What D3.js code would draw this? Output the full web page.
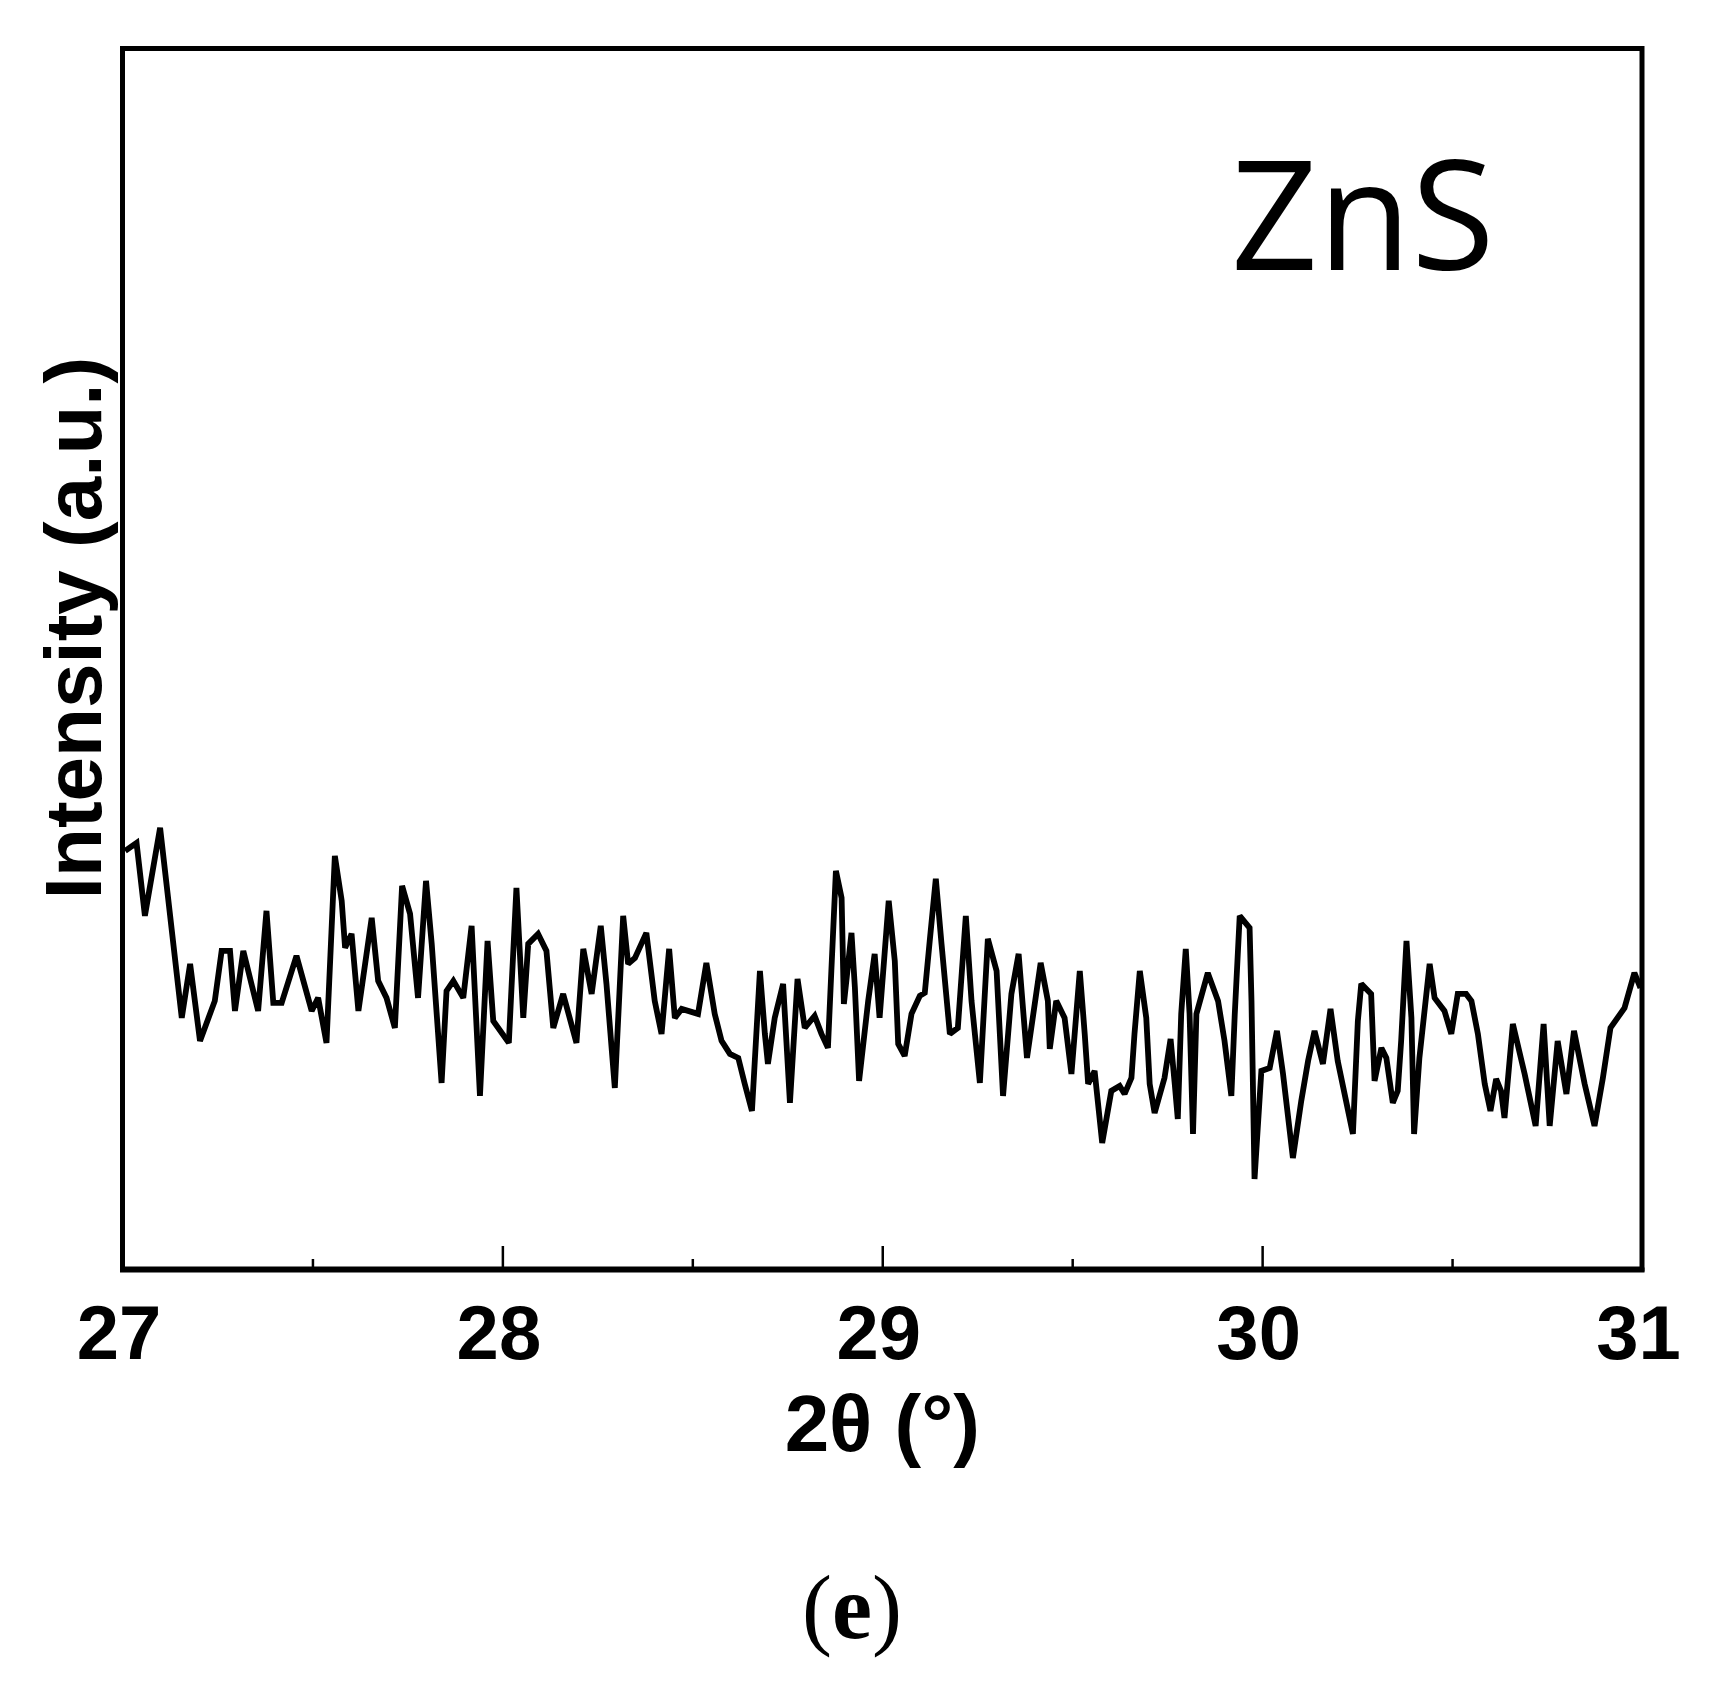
<!DOCTYPE html>
<html>
<head>
<meta charset="utf-8">
<script src="https://cdn.jsdelivr.net/npm/d3@7"></script>
<style>
  body { margin: 0; background: white; }
</style>
</head>
<body>
<div id="chart"></div>
<script>
// 2theta positions (deg) of the trace vertices
const theta = [
  27.007, 27.037, 27.059, 27.099, 27.138, 27.156, 27.178, 27.204, 27.243, 27.261,
  27.283, 27.296, 27.318, 27.357, 27.379, 27.397, 27.419, 27.458, 27.498, 27.515,
  27.537, 27.559, 27.577, 27.586, 27.603, 27.621, 27.656, 27.673, 27.695, 27.717,
  27.736, 27.757, 27.778, 27.799, 27.814, 27.840, 27.853, 27.871, 27.897, 27.919,
  27.941, 27.961, 27.976, 28.017, 28.024, 28.037, 28.055, 28.068, 28.094, 28.116,
  28.134, 28.160, 28.195, 28.213, 28.235, 28.259, 28.274, 28.296, 28.318, 28.331,
  28.349, 28.379, 28.401, 28.419, 28.439, 28.454, 28.472, 28.515, 28.537, 28.559,
  28.577, 28.599, 28.621, 28.638, 28.657, 28.678, 28.691, 28.699, 28.717, 28.739,
  28.757, 28.777, 28.796, 28.822, 28.840, 28.857, 28.866, 28.878, 28.893, 28.899,
  28.919, 28.928, 28.939, 28.963, 28.980, 28.993, 29.017, 29.033, 29.042, 29.059,
  29.077, 29.099, 29.112, 29.125, 29.141, 29.156, 29.178, 29.199, 29.220, 29.235,
  29.257, 29.278, 29.301, 29.318, 29.340, 29.359, 29.381, 29.417, 29.436, 29.441,
  29.458, 29.480, 29.498, 29.520, 29.533, 29.542, 29.559, 29.579, 29.603, 29.625,
  29.638, 29.656, 29.664, 29.678, 29.695, 29.704, 29.717, 29.743, 29.759, 29.770,
  29.778, 29.787, 29.799, 29.809, 29.818, 29.827, 29.857, 29.884, 29.901, 29.919,
  29.928, 29.941, 29.967, 29.972, 29.980, 29.998, 30.020, 30.039, 30.055, 30.081,
  30.103, 30.121, 30.138, 30.160, 30.180, 30.199, 30.239, 30.252, 30.261, 30.287,
  30.296, 30.314, 30.327, 30.344, 30.357, 30.366, 30.380, 30.393, 30.400, 30.414,
  30.441, 30.454, 30.480, 30.498, 30.515, 30.537, 30.551, 30.568, 30.586, 30.601,
  30.616, 30.629, 30.638, 30.660, 30.691, 30.720, 30.741, 30.757, 30.778, 30.801,
  30.821, 30.849, 30.875, 30.897, 30.917, 30.954, 30.980, 30.996
];

// intensity (a.u.) at each vertex
const intensity = [
  41.8, 42.6, 35.3, 44.1, 31.1, 25.1, 30.5, 22.8, 26.8, 31.8,
  31.8, 25.8, 31.8, 25.8, 35.8, 26.6, 26.6, 31.3, 25.8, 27.1,
  22.6, 41.3, 36.8, 32.1, 33.5, 25.8, 35.1, 28.8, 27.1, 24.1,
  38.3, 35.5, 27.1, 38.8, 32.5, 18.6, 27.8, 28.8, 27.1, 34.3,
  17.3, 32.8, 24.8, 22.6, 28.1, 38.1, 25.1, 32.5, 33.5, 31.8,
  24.1, 27.5, 22.6, 32.0, 27.5, 34.3, 28.5, 18.1, 35.3, 30.5,
  31.1, 33.6, 26.8, 23.5, 32.0, 25.1, 26.0, 25.5, 30.6, 25.5,
  22.8, 21.5, 21.1, 18.5, 15.8, 29.8, 23.5, 20.5, 25.1, 28.5,
  16.6, 29.0, 24.1, 25.3, 23.5, 22.1, 29.8, 39.8, 37.1, 26.5,
  33.6, 28.1, 18.8, 26.8, 31.5, 25.1, 36.8, 30.8, 22.5, 21.3,
  25.5, 27.3, 27.6, 32.8, 39.0, 32.5, 23.5, 24.1, 35.3, 26.8,
  18.6, 33.0, 29.8, 17.3, 27.5, 31.5, 21.1, 30.6, 26.8, 22.0,
  26.8, 25.1, 19.5, 29.8, 23.5, 18.5, 19.8, 12.6, 17.8, 18.3,
  17.5, 19.1, 23.5, 29.8, 25.1, 18.5, 15.6, 19.1, 23.0, 18.5,
  15.0, 25.5, 32.0, 25.5, 13.5, 25.5, 29.6, 26.8, 22.8, 17.3,
  25.5, 35.3, 34.1, 26.8, 9.0, 19.8, 20.1, 23.8, 19.5, 11.1,
  16.8, 20.8, 23.8, 20.5, 26.0, 20.8, 13.5, 24.8, 28.5, 27.5,
  18.8, 22.1, 21.1, 16.6, 17.8, 22.8, 32.8, 25.1, 13.5, 21.1,
  30.5, 27.1, 25.8, 23.5, 27.5, 27.5, 26.8, 23.5, 18.5, 15.8,
  19.0, 17.8, 15.1, 24.5, 19.5, 14.3, 24.5, 14.3, 22.8, 17.5,
  23.8, 18.5, 14.3, 19.1, 24.1, 26.1, 29.6, 28.1
];

const xTicks = [27, 28, 29, 30, 31];          // labelled ticks
const xMinor = [27.5, 28.5, 29.5, 30.5];      // small ticks between
const xDomain = [27, 31];
const yDomain = [0, 122];

const largeur = 1724, hauteur = 1685;
const marge = { gauche: 122.5, droite: 82, haut: 48.5, bas: 416 };

const svg = d3.select("#chart")
    .append("svg")
        .attr("width", largeur)
        .attr("height", hauteur)
        .style("display", "block");

const x = d3.scaleLinear().domain(xDomain).range([marge.gauche, largeur - marge.droite]);
const y = d3.scaleLinear().domain(yDomain).range([hauteur - marge.bas, marge.haut]);

const points = theta.map((t, i) => [t, intensity[i]]);

// the trace
svg.append("path")
    .datum(points)
    .attr("fill", "none")
    .attr("stroke", "black")
    .attr("stroke-width", 5.8)
    .attr("stroke-linejoin", "miter")
    .attr("stroke-miterlimit", 2)
    .attr("d", d3.line().x(d => x(d[0])).y(d => y(d[1])));

// bottom axis, ticks pointing inwards
const axeX = svg.append("g")
    .attr("transform", "translate(0," + y(yDomain[0]) + ")")
    .call(d3.axisBottom(x).tickValues(xTicks).tickFormat(d3.format("d"))
        .tickSizeInner(-23).tickSizeOuter(0).tickPadding(36));
axeX.select(".domain").remove();
axeX.selectAll(".tick line").attr("stroke", "black").attr("stroke-width", 2.5);
axeX.selectAll(".tick text")
    .attr("font-family", "'Liberation Sans', Arial, sans-serif")
    .attr("font-weight", "bold")
    .attr("font-size", 76)
    .attr("fill", "black")
    .attr("dx", -4);

const axeMinor = svg.append("g")
    .attr("transform", "translate(0," + y(yDomain[0]) + ")")
    .call(d3.axisBottom(x).tickValues(xMinor).tickFormat("").tickSizeInner(-10).tickSizeOuter(0));
axeMinor.select(".domain").remove();
axeMinor.selectAll(".tick line").attr("stroke", "black").attr("stroke-width", 2.5);

// frame around the plot
svg.append("rect")
    .attr("x", x(xDomain[0]))
    .attr("y", y(yDomain[1]))
    .attr("width", x(xDomain[1]) - x(xDomain[0]))
    .attr("height", y(yDomain[0]) - y(yDomain[1]))
    .attr("fill", "none")
    .attr("stroke", "black")
    .attr("stroke-width", 5);

// bottom axis line is a bit heavier
svg.append("line")
    .attr("x1", x(xDomain[0]) - 2.5).attr("x2", x(xDomain[1]) + 2.5)
    .attr("y1", y(yDomain[0]) + 1).attr("y2", y(yDomain[0]) + 1)
    .attr("stroke", "black").attr("stroke-width", 5);

// axis titles
svg.append("text")
    .attr("x", (x(xDomain[0]) + x(xDomain[1])) / 2)
    .attr("y", 1451)
    .attr("text-anchor", "middle")
    .attr("font-family", "'Liberation Sans', Arial, sans-serif")
    .attr("font-weight", "bold")
    .attr("font-size", 80)
    .text("2θ (°)");

svg.append("text")
    .attr("transform", "translate(101,628) rotate(-90)")
    .attr("text-anchor", "middle")
    .attr("font-family", "'Liberation Sans', Arial, sans-serif")
    .attr("font-weight", "bold")
    .attr("font-size", 80)
    .text("Intensity (a.u.)");

// sample name inside the plot
svg.append("text")
    .attr("x", 1231)
    .attr("y", 270)
    .attr("font-family", "'Open Sans', sans-serif")
    .attr("font-size", 152)
    .text("ZnS");

// panel letter
svg.append("text")
    .attr("x", 852)
    .attr("y", 1638)
    .attr("text-anchor", "middle")
    .attr("font-family", "'Liberation Serif', 'Times New Roman', serif")
    .attr("font-size", 90)
    .text("(")
    .append("tspan").attr("font-weight", "bold").text("e")
    .select(function() { return this.parentNode; })
    .append("tspan").text(")");
</script>
</body>
</html>
